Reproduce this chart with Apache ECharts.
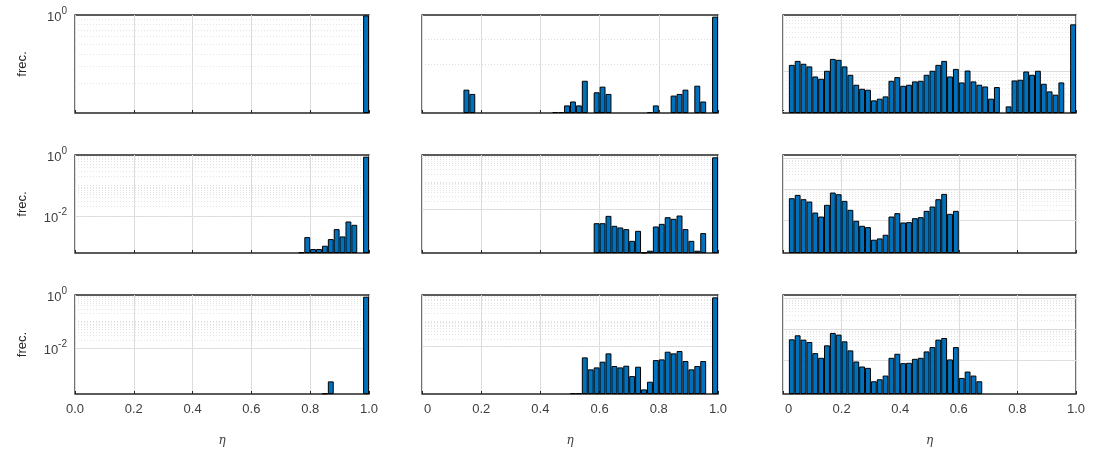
<!DOCTYPE html>
<html>
<head>
<meta charset="utf-8">
<script src="https://cdn.jsdelivr.net/npm/echarts@6/dist/echarts.min.js"></script>
<style>
html,body{margin:0;padding:0;background:#fff;}
#main{width:1093px;height:453px;}
</style>
</head>
<body>
<div id="main"></div>
<script>
// histogramas de eta, 50 clases de ancho 0.02 en [0,1]
var binCount = 50;
var binLabels = [];
for (var b = 0; b < binCount; b++) binLabels.push((b * 0.02 + 0.01).toFixed(2));

// etiquetas de los ejes
var xLabelsCol1 = ['0.0', '0.2', '0.4', '0.6', '0.8', '1.0'];
var xLabelsCol23 = ['0', '0.2', '0.4', '0.6', '0.8', '1.0'];
var yLabelsRow = [[1, 0.1], [1, 0.01], [1, 0.01]];

// datos: [clase, frec.]
var p11 = [[49, 0.99]];
var p12 = [[7, 0.000897], [8, 0.0006], [22, 0.00011], [23, 0.00011], [24, 0.000204], [25, 0.000295],
  [26, 0.000204], [27, 0.00207], [29, 0.0007], [30, 0.00119], [31, 0.0006], [38, 0.00011], [39, 0.000204],
  [42, 0.000514], [43, 0.0006], [44, 0.000897], [46, 0.0013], [47, 0.000295], [49, 0.857]];
var p13 = [[1, 0.131], [2, 0.154], [3, 0.137], [4, 0.123], [5, 0.0816], [6, 0.0743], [7, 0.103], [8, 0.167],
  [9, 0.161], [10, 0.123], [11, 0.0873], [12, 0.0582], [13, 0.0494], [14, 0.0475], [15, 0.0308], [16, 0.033],
  [17, 0.0362], [18, 0.0684], [19, 0.0794], [20, 0.0558], [21, 0.0582], [22, 0.0667], [23, 0.0684], [24, 0.0873],
  [25, 0.103], [26, 0.131], [27, 0.154], [28, 0.0816], [29, 0.111], [30, 0.064], [31, 0.104], [32, 0.0667],
  [33, 0.0582], [34, 0.0543], [35, 0.033], [36, 0.053], [38, 0.0241], [39, 0.0694], [40, 0.0714], [41, 0.1],
  [42, 0.0873], [43, 0.103], [44, 0.0606], [45, 0.0444], [46, 0.0388], [47, 0.064], [49, 0.684]];
var p21 = [[38, 0.00063], [39, 0.002], [40, 0.00081], [41, 0.00081], [42, 0.00104], [43, 0.00172],
  [44, 0.00366], [45, 0.0021], [46, 0.00652], [47, 0.00507], [49, 0.88]];
var p22 = [[29, 0.00294], [30, 0.00294], [31, 0.0055], [32, 0.00235], [33, 0.00204], [34, 0.00177],
  [35, 0.00065], [36, 0.00153], [37, 0.00024], [38, 0.00028], [39, 0.00222], [40, 0.00278], [41, 0.00491],
  [42, 0.00427], [43, 0.00566], [44, 0.00177], [45, 0.00065], [46, 0.00028], [47, 0.00126], [49, 0.82]];
var p23 = [[1, 0.0509], [2, 0.0653], [3, 0.0472], [4, 0.0396], [5, 0.0173], [6, 0.0128], [7, 0.0309],
  [8, 0.0779], [9, 0.0687], [10, 0.0417], [11, 0.0212], [12, 0.00928], [13, 0.00637], [14, 0.00576],
  [15, 0.00223], [16, 0.00246], [17, 0.00324], [18, 0.0128], [19, 0.0165], [20, 0.00818], [21, 0.0084],
  [22, 0.0113], [23, 0.0122], [24, 0.0196], [25, 0.0272], [26, 0.0472], [27, 0.0705], [28, 0.0157], [29, 0.0196]];
var p31 = [[42, 0.00019], [43, 0.00054], [49, 0.86]];
var p32 = [[25, 0.00016], [26, 0.00016], [27, 0.00386], [28, 0.00133], [29, 0.00158], [30, 0.00263],
  [31, 0.00552], [32, 0.00179], [33, 0.00158], [34, 0.00184], [35, 0.00073], [36, 0.00168], [37, 0.000223],
  [38, 0.000442], [39, 0.00305], [40, 0.00323], [41, 0.0064], [42, 0.00552], [43, 0.00679], [44, 0.00279],
  [45, 0.00133], [46, 0.00179], [47, 0.00279], [49, 0.81]];
var p33 = [[1, 0.0484], [2, 0.0653], [3, 0.0472], [4, 0.0396], [5, 0.0173], [6, 0.0122], [7, 0.0309],
  [8, 0.0779], [9, 0.0687], [10, 0.0417], [11, 0.0212], [12, 0.00928], [13, 0.00637], [14, 0.00576],
  [15, 0.00212], [16, 0.00246], [17, 0.00324], [18, 0.0122], [19, 0.0165], [20, 0.00818], [21, 0.0084],
  [22, 0.0113], [23, 0.0122], [24, 0.0196], [25, 0.0272], [26, 0.0472], [27, 0.0535], [28, 0.0108],
  [29, 0.0272], [30, 0.00272], [31, 0.00438], [32, 0.00324], [33, 0.00212]];
var panels = [p11, p12, p13, p21, p22, p23, p31, p32, p33];

// limites del eje y (log) por panel
var yMin = [0.1, 1e-4, 0.0184, 0.0006, 0.00023, 0.00082, 0.00018, 0.000148, 0.00082];
var yMax = [1, 1, 1, 1, 1, 1.32, 1, 1, 1.32];

// rejilla horizontal: lineas continuas, punteadas y decadas con subdivisiones
var solidAt = [[], [], [0.1], [0.01], [0.01], [1, 0.1, 0.01, 0.001], [0.01], [0.01], [1, 0.1, 0.01, 0.001]];
var dotAt = [[], [0.1, 0.01, 0.001], [], [0.1, 0.001], [0.1, 0.001, 0.0001], [], [0.1, 0.001, 0.0001], [0.1, 0.001, 0.0001], []];
var minorIn = [[0.1], [], [0.1, 0.01], [0.1, 0.01, 0.001, 0.0001], [0.1, 0.01, 0.001, 0.0001],
  [1, 0.1, 0.01, 0.001, 0.0001], [0.1, 0.01, 0.001, 0.0001], [0.1, 0.01, 0.001, 0.0001], [1, 0.1, 0.01, 0.001, 0.0001]];

// posicion de los ejes (px)
var colLeft = [75, 422, 783];
var colRight = [369, 718, 1076];
var rowTop = [15, 155, 295];
var rowBottom = [113, 253, 394];

var textColor = '#262626';
var gridColor = '#dcdcdc';

function gridLines(i) {
  var lines = [];
  var lo = yMin[i] * 1.0001, hi = yMax[i] / 1.0001;
  solidAt[i].forEach(function (v) {
    if (v > lo && v < hi) lines.push({yAxis: v, lineStyle: {type: 'solid', color: gridColor, width: 1}});
  });
  dotAt[i].forEach(function (v) {
    if (v > lo && v < hi) lines.push({yAxis: v, lineStyle: {type: [1, 2], color: gridColor, width: 1}});
  });
  minorIn[i].forEach(function (d) {
    for (var k = 2; k <= 9; k++) {
      var v = k * d;
      if (v > lo && v < hi) lines.push({yAxis: v, lineStyle: {type: [1, 2], color: '#e4e4e4', width: 1}});
    }
  });
  return lines;
}

var grids = [], xAxes = [], yAxes = [], series = [];
panels.forEach(function (p, i) {
  var r = Math.floor(i / 3), c = i % 3;
  grids.push({
    left: colLeft[c], top: rowTop[r],
    width: colRight[c] - colLeft[c], height: rowBottom[r] - rowTop[r],
    show: true, borderColor: textColor, borderWidth: 1.3, backgroundColor: 'transparent'
  });
  xAxes.push({
    type: 'category', gridIndex: i, data: binLabels, show: false, boundaryGap: true, position: 'top'
  });
  xAxes.push({
    type: 'value', gridIndex: i, min: 0, max: 1, interval: 0.2, position: 'bottom',
    axisLine: {show: false},
    axisTick: {show: true, inside: true, length: 3, lineStyle: {color: textColor}},
    axisLabel: {
      show: r === 2, color: '#404040', fontSize: 13, fontFamily: 'Liberation Sans', margin: 9,
      formatter: function (v) {
        var k = Math.round(v / 0.2);
        if (c === 0) return xLabelsCol1[k];
        return k === 0 ? '{z|' + xLabelsCol23[k] + '}' : xLabelsCol23[k];
      },
      rich: {z: {fontSize: 13, color: '#404040', fontFamily: 'Liberation Sans', padding: [0, 0, 0, 11]}}
    },
    splitLine: {show: true, lineStyle: {color: gridColor, width: 1}},
    name: r === 2 ? 'η' : '', nameLocation: 'middle', nameGap: 41,
    nameTextStyle: {fontStyle: 'italic', fontFamily: 'DejaVu Serif', fontSize: 12, color: '#404040'}
  });
  yAxes.push({
    type: 'log', logBase: 10, gridIndex: i, min: yMin[i], max: yMax[i], startValue: yMin[i],
    axisLine: {show: false}, axisTick: {show: false}, splitLine: {show: false},
    axisLabel: {
      show: c === 0, margin: 8, showMinLabel: false,
      formatter: function (v) {
        var e = Math.round(Math.log10(v));
        if (Math.abs(Math.log10(v) - e) > 1e-6) return '';
        var ok = yLabelsRow[r].some(function (t) { return Math.abs(Math.log10(t) - e) < 1e-6; });
        return ok ? '{b|10}{s|' + e + '}' : '';
      },
      rich: {
        b: {fontSize: 13, color: '#404040', fontFamily: 'Liberation Sans', verticalAlign: 'bottom', lineHeight: 18},
        s: {fontSize: 10, color: '#404040', fontFamily: 'Liberation Sans', verticalAlign: 'top', lineHeight: 12}
      }
    },
    name: c === 0 ? 'frec.' : '', nameLocation: 'middle', nameRotate: 90, nameGap: 46,
    nameTextStyle: {fontSize: 13, color: textColor, fontFamily: 'Liberation Sans'}
  });
  series.push({
    type: 'line', xAxisIndex: 2 * i, yAxisIndex: i, data: [], z: 1, silent: true,
    markLine: {silent: true, z: 1, symbol: ['none', 'none'], label: {show: false}, animation: false, data: gridLines(i)}
  });
  series.push({
    type: 'bar', xAxisIndex: 2 * i, yAxisIndex: i, data: p, z: 3, silent: true,
    barCategoryGap: '0%',
    itemStyle: {color: '#0072BD', borderColor: '#000', borderWidth: 1}
  });
});

var chart = echarts.init(document.getElementById('main'));
chart.setOption({
  animation: false,
  grid: grids,
  xAxis: xAxes,
  yAxis: yAxes,
  series: series
});
</script>
</body>
</html>
